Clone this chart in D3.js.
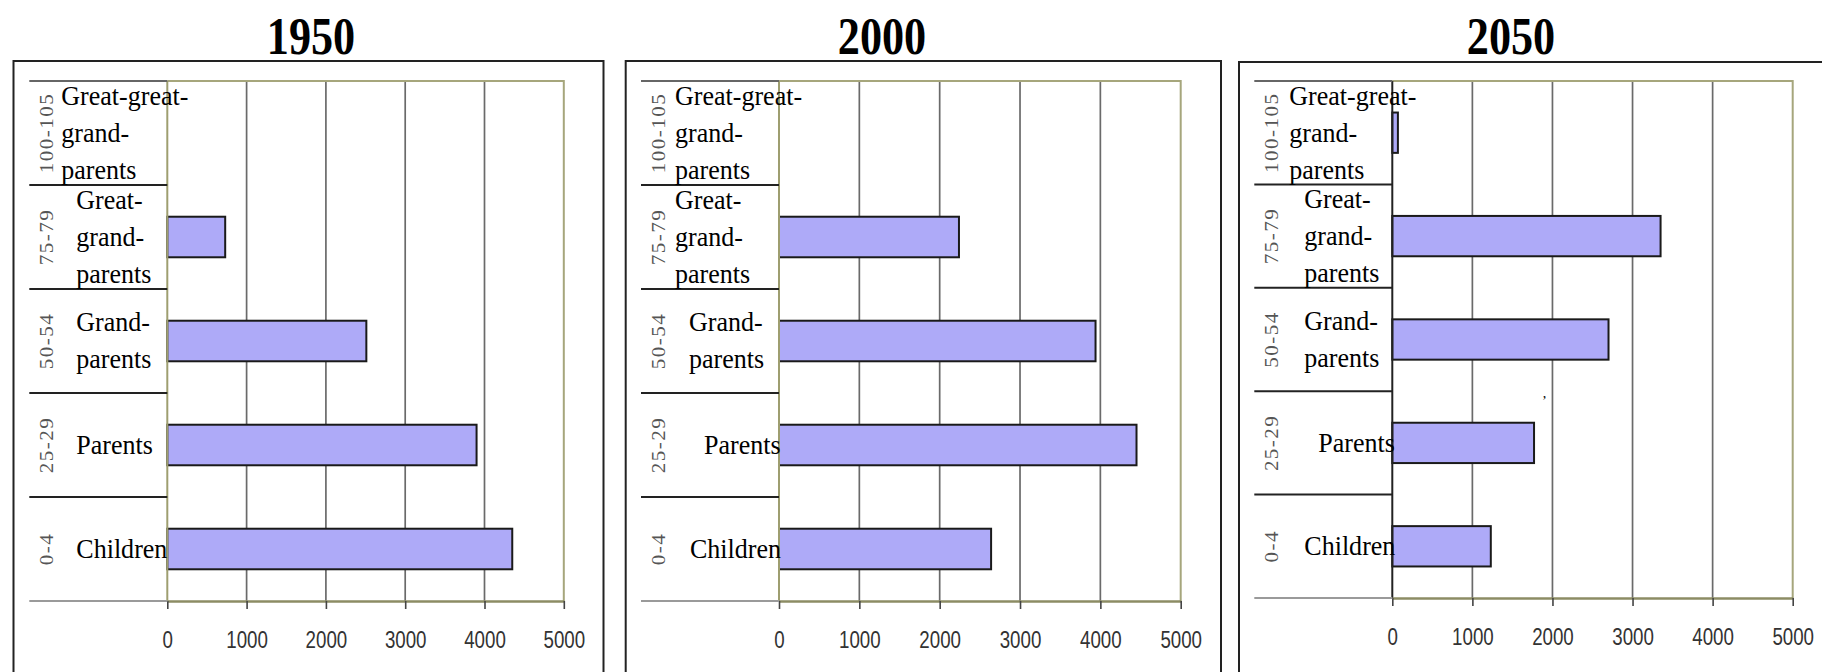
<!DOCTYPE html>
<html lang="en">
<head>
<meta charset="UTF-8">
<title>Generations 1950 / 2000 / 2050</title>
<script src="https://d3js.org/d3.v7.min.js"></script>
<style>
    body { margin: 0; background: #fff; }
    svg { display: block; }
    .title { font-family: "Liberation Serif", "Times New Roman", serif; font-weight: bold; font-size: 52px; fill: #000; }
    .role { font-family: "Liberation Serif", "Times New Roman", serif; font-size: 28px; fill: #000; }
    .age { font-family: "Liberation Serif", "Times New Roman", serif; font-size: 21px; letter-spacing: 1.5px; fill: #555; }
    .tick text { font-family: "Liberation Sans", Arial, sans-serif; font-size: 24px; fill: #333; }
</style>
</head>
<body>
<div id="chart"></div>
<script>
// data
const years = ["1950", "2000", "2050"];
const ageGroups = ["100-105", "75-79", "50-54", "25-29", "0-4"];
const roleLabels = [
    ["Great-great-", "grand-", "parents"],
    ["Great-", "grand-", "parents"],
    ["Grand-", "parents"],
    ["Parents"],
    ["Children"]
];
const pop1950 = [0, 730, 2510, 3900, 4350];
const pop2000 = [0, 2240, 3940, 4450, 2640];
const pop2050 = [70, 3350, 2700, 1770, 1230];
const xTicks = [0, 1000, 2000, 3000, 4000, 5000];
const xMax = 5000;

// layout of the three panels (screen px)
const panels = [
    {year: years[0], values: pop1950, frame: [13.5, 603.5, 61], plotX: [167.3, 563.8], plotY: [81, 601],
     titleX: 311, axisColor: "#9e9e70", labelInset: [106, 91, 91, 91, 91]},
    {year: years[1], values: pop2000, frame: [625.7, 1221, 61], plotX: [779, 1180.7], plotY: [81, 601],
     titleX: 882, axisColor: "#9e9e70", labelInset: [104, 104, 90, 75, 89]},
    {year: years[2], values: pop2050, frame: [1239, 1840, 62], plotX: [1392.3, 1792.7], plotY: [81, 598],
     titleX: 1511, axisColor: "#222", labelInset: [103, 88, 88, 74, 88]}
];

const W = 1822, H = 672;
const svg = d3.select("#chart").append("svg")
    .attr("width", W).attr("height", H);

svg.append("rect").attr("width", W).attr("height", H).attr("fill", "#fff");

panels.forEach(p => {
    const g = svg.append("g");
    const x = d3.scaleLinear().domain([0, xMax]).range(p.plotX);
    const y = d3.scaleBand().domain(ageGroups).range(p.plotY).padding(0);
    const bw = y.bandwidth();
    const [yTop, yBot] = p.plotY;
    const x0 = x(0), x1 = x(xMax);

    // outer frame
    g.append("rect")
        .attr("x", p.frame[0]).attr("y", p.frame[2])
        .attr("width", p.frame[1] - p.frame[0]).attr("height", H + 20 - p.frame[2])
        .attr("fill", "none").attr("stroke", "#222").attr("stroke-width", 2);

    // title
    g.append("text").attr("class", "title")
        .attr("text-anchor", "middle")
        .attr("transform", `translate(${p.titleX},54) scale(0.85,1)`)
        .text(p.year);

    // vertical gridlines
    g.selectAll(".grid")
        .data(xTicks.filter(t => t > 0 && t < xMax))
        .enter().append("line")
        .attr("x1", d => x(d)).attr("x2", d => x(d))
        .attr("y1", yTop).attr("y2", yBot)
        .attr("stroke", "#6a6a6a").attr("stroke-width", 1.7);

    // bars
    g.selectAll(".bar")
        .data(ageGroups.map((a, i) => ({age: a, v: p.values[i]})).filter(d => d.v > 0))
        .enter().append("rect")
        .attr("x", x0)
        .attr("y", d => y(d.age) + bw * 0.305)
        .attr("width", d => x(d.v) - x0)
        .attr("height", bw * 0.39)
        .attr("fill", "#aeaaf8")
        .attr("stroke", "#1a1a1a").attr("stroke-width", 2);

    // plot border (top + right)
    g.append("path")
        .attr("d", `M${x0},${yTop}H${x1}V${yBot}`)
        .attr("fill", "none").attr("stroke", "#a6a67c").attr("stroke-width", 2);

    // value axis at 0
    g.append("line")
        .attr("x1", x0).attr("x2", x0).attr("y1", yTop).attr("y2", yBot)
        .attr("stroke", p.axisColor).attr("stroke-width", 2);

    // x axis
    const ax = g.append("g")
        .attr("transform", `translate(0,${yBot})`)
        .call(d3.axisBottom(x).tickValues(xTicks).tickSize(8).tickSizeOuter(0).tickFormat(d3.format("d")));
    ax.select(".domain").attr("stroke", "#8c8c64").attr("stroke-width", 2.5);
    ax.selectAll(".tick line").attr("stroke", "#444").attr("stroke-width", 1.6);
    ax.selectAll(".tick text")
        .attr("y", null).attr("dy", null)
        .attr("transform", "translate(0,47) scale(0.78,1)");

    // category separators
    const bounds = d3.range(ageGroups.length + 1).map(i => yTop + i * bw);
    g.selectAll(".sep")
        .data(bounds)
        .enter().append("line")
        .attr("x1", x0 - 138).attr("x2", x0)
        .attr("y1", d => d).attr("y2", d => d)
        .attr("stroke", (d, i) => i === 0 ? "#666" : (i === bounds.length - 1 ? "#9a9a9a" : "#222"))
        .attr("stroke-width", 2);

    // age-group labels (rotated)
    g.selectAll(".age")
        .data(ageGroups)
        .enter().append("text").attr("class", "age")
        .attr("text-anchor", "middle")
        .attr("dominant-baseline", "central")
        .attr("transform", d => `translate(${x0 - 120},${y(d) + bw / 2}) scale(0.85,1) rotate(-90)`)
        .text(d => d);

    // role labels
    ageGroups.forEach((a, i) => {
        const lines = roleLabels[i];
        const cy = y(a) + bw / 2 + 9;
        const t = g.append("text").attr("class", "role")
            .attr("transform", `translate(${x0 - p.labelInset[i]},0) scale(0.93,1)`);
        lines.forEach((ln, k) => {
            t.append("tspan")
                .attr("x", 0)
                .attr("y", cy + (k - (lines.length - 1) / 2) * 37)
                .text(ln);
        });
    });

    if (p.year === "2050") {
        g.append("text").attr("class", "role")
            .attr("x", x(1880)).attr("y", 398)
            .style("font-size", "14px")
            .text(",");
    }
});
</script>
</body>
</html>
